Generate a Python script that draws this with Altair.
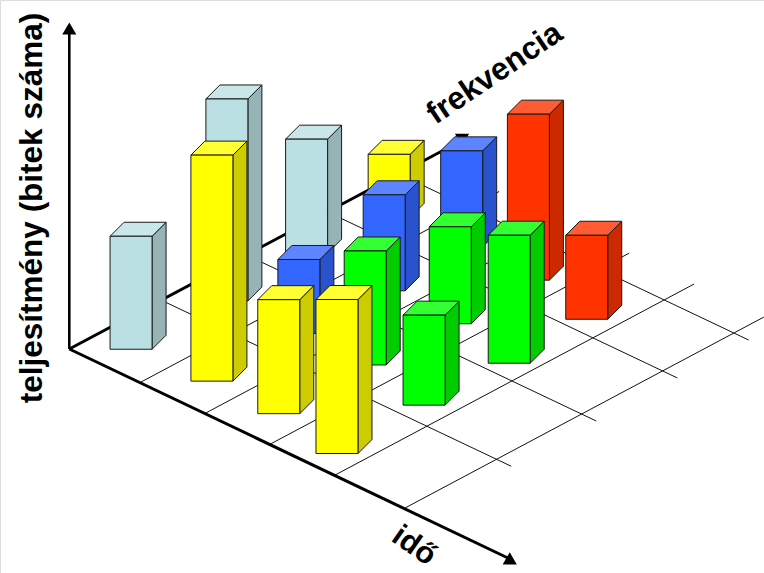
import altair as alt
import pandas as pd

W, H = 764, 573

# Floor plane: pixel origin and the screen vector of one time / frequency unit
ORIGIN = (70.0, 349.0)
AXIS_X = 69.3
T_VEC = (67.0, 31.8)
F_VEC = (81.0, -43.1)

# Bar footprint on screen
BAR_W = 42.0
DEPTH = 14.0

# Grid tick positions along each floor axis and how far the grid lines run
time_ticks = [1.05, 2.02, 2.99, 3.96, 5.0]
freq_ticks = [1.13, 2.18, 3.18, 4.06]
time_line_len = 5.22
freq_line_len = 4.43

# Bars, listed from back to front so nearer ones paint over farther ones
bar_time = [0.40, 1.41, 0.28, 2.43, 1.45, 0.36, 3.47, 2.46, 1.41, 0.32, 3.51, 2.40, 1.43, 3.46, 2.44, 3.49]
bar_freq = [3.35, 3.41, 2.43, 3.39, 2.42, 1.38, 3.25, 2.40, 1.40, 0.23, 2.26, 1.40, 0.31, 1.25, 0.30, 0.15]
bar_height = [63, 96, 114, 166, 96, 202, 84, 97, 74, 113, 128, 114, 226, 90, 114, 154]
bar_kind = ["yellow", "blue", "pale", "red", "blue", "pale", "red", "green",
            "blue", "pale", "green", "green", "yellow", "green", "yellow", "yellow"]

front_colors = {"pale": "#BBE0E3", "yellow": "#FFFF00", "blue": "#3366FF", "green": "#00FF00", "red": "#FF3300"}
side_colors = {"pale": "#96B3B6", "yellow": "#CCCC00", "blue": "#2952CC", "green": "#00CC00", "red": "#CC2900"}
top_colors = {"pale": "#C9E6E9", "yellow": "#FFFF33", "blue": "#5C85FF", "green": "#33FF33", "red": "#FF5C33"}


def floor(t, f):
    return (ORIGIN[0] + t * T_VEC[0] + f * F_VEC[0],
            ORIGIN[1] + t * T_VEC[1] + f * F_VEC[1])


x_scale = alt.Scale(domain=[0, W], range=[0, W], nice=False, zero=False)
y_scale = alt.Scale(domain=[0, H], range=[0, H], nice=False, zero=False)
X = alt.X("x:Q", scale=x_scale, axis=None)
Y = alt.Y("y:Q", scale=y_scale, axis=None)


def segment(p, q, width, color="#000000"):
    data = pd.DataFrame({"x": [p[0], q[0]], "y": [p[1], q[1]], "o": [0, 1]})
    return alt.Chart(data).mark_line(color=color, strokeWidth=width).encode(x=X, y=Y, order="o:Q")


def bar_layers(t, f, h, kind):
    x0, y0 = floor(t, f)
    x1 = x0 + BAR_W
    top = y0 - h
    edge = "#1a1a1a"
    front = alt.Chart(pd.DataFrame({"x": [x0], "x2": [x1], "y": [top], "y2": [y0]})).mark_rect(
        fill=front_colors[kind], stroke=edge, strokeWidth=1
    ).encode(x=X, x2="x2:Q", y=Y, y2="y2:Q")
    side = alt.Chart(pd.DataFrame({
        "x": [x1, x1 + DEPTH], "y": [top, top - DEPTH], "y2": [y0, y0 - DEPTH]
    })).mark_area(fill=side_colors[kind], stroke=edge, strokeWidth=1, opacity=1).encode(x=X, y=Y, y2="y2:Q")
    cap = alt.Chart(pd.DataFrame({
        "y": [top - DEPTH, top], "x": [x0 + DEPTH, x0], "x2": [x1 + DEPTH, x1]
    })).mark_area(fill=top_colors[kind], stroke=edge, strokeWidth=1, opacity=1, orient="horizontal").encode(
        x=X, x2="x2:Q", y=Y
    )
    return [side, cap, front]


layers = []

# Thin floor grid
for t in time_ticks:
    start = floor(t, 0)
    end = floor(t, freq_line_len)
    layers.append(segment(start, end, 1, "#111111"))
for f in freq_ticks:
    start = floor(0, f)
    end = floor(time_line_len, f)
    layers.append(segment(start, end, 1, "#111111"))

# Three main axes with arrow heads
layers.append(segment((AXIS_X, ORIGIN[1]), (AXIS_X, 30), 2.6))
layers.append(segment((AXIS_X, ORIGIN[1]), floor(0, 4.86), 3))
layers.append(segment((AXIS_X, ORIGIN[1]), (509.0, 558.5), 3))

heads = pd.DataFrame({"x": [69.3, 462.0, 511.5], "y": [28.5, 139.8, 561.5], "a": [0, 180, 120]})
layers.append(
    alt.Chart(heads).mark_point(shape="triangle-up", filled=True, fill="#000000", size=200, opacity=1, strokeWidth=0)
    .encode(x=X, y=Y, angle=alt.Angle("a:Q", scale=None))
)

for t, f, h, kind in zip(bar_time, bar_freq, bar_height, bar_kind):
    layers.extend(bar_layers(t, f, h, kind))

# Axis captions: text, centre position, angle, size
captions = [
    ("teljesítmény (bitek száma)", 33, 208, 270, 31.5),
    ("frekvencia", 495, 74, 326, 31.5),
    ("idő", 414, 546, 35, 30.5),
]
for text, cx, cy, angle, size in captions:
    layers.append(
        alt.Chart(pd.DataFrame({"x": [cx], "y": [cy], "label": [text]})).mark_text(
            font="Liberation Sans", fontWeight="bold", fontSize=size, color="#000000",
            angle=angle, align="center", baseline="middle"
        ).encode(x=X, y=Y, text="label:N")
    )

chart = (
    alt.layer(*layers)
    .properties(width=W, height=H, padding=0, autosize=alt.AutoSizeParams(type="none", contains="padding"))
    .configure_view(strokeWidth=0, stroke="#ffffff")
    .configure(background="#ffffff")
)
chart.save("out.html", embed_options={"renderer": "svg", "actions": False})
